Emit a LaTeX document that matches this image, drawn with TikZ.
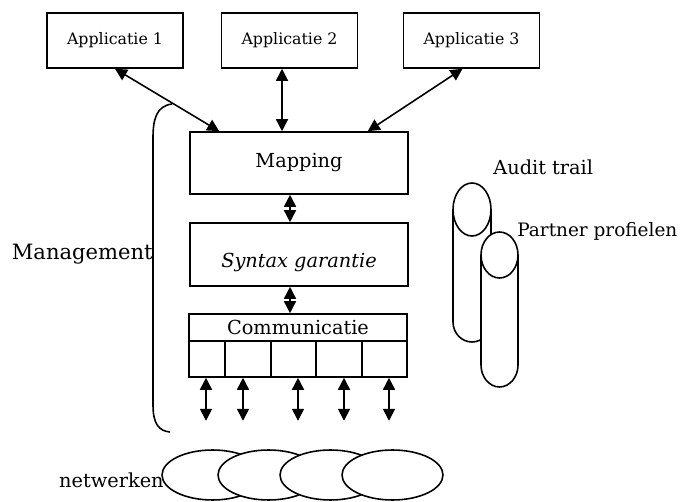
\documentclass[tikz,border=0pt]{standalone}
\usepackage{fontspec}
\setmainfont{DejaVu Serif}
\usepackage{tikz}
\usetikzlibrary{arrows.meta, shapes.geometric, calc}
\tikzset{
  appbox/.style={rectangle, draw, line width=0.9pt,
    minimum width=2.72cm, minimum height=1.1cm, inner sep=0pt,
    font=\fontsize{9}{11}\selectfont},
  layerbox/.style={rectangle, draw, line width=0.9pt,
    minimum width=4.36cm, inner sep=0pt, font=\fontsize{11}{13}\selectfont},
  cellbox/.style={rectangle, draw, line width=0.9pt,
    minimum height=0.72cm, inner sep=0pt},
  netnode/.style={ellipse, draw, fill=white, line width=0.9pt,
    minimum width=2.02cm, minimum height=1.0cm, inner sep=0pt},
  cyl/.style={draw, fill=white, line width=0.9pt},
  dblarrow/.style={{Triangle[length=2.4mm,width=2.4mm]}-{Triangle[length=2.4mm,width=2.4mm]},
    line width=0.9pt},
  lbl/.style={font=\fontsize{11}{13}\selectfont, inner sep=0pt}
}

\begin{document}
\begin{tikzpicture}[x=0.02cm, y=-0.02cm]
  \useasboundingbox (0,0) rectangle (682,502);

  % Applications
  \node[appbox] (app1) at (115,40.5) {Applicatie 1};
  \node[appbox] (app2) at (289.5,40.5) {Applicatie 2};
  \node[appbox] (app3) at (471.5,40.5) {Applicatie 3};

  % Layers
  \node[layerbox, minimum height=1.24cm] (map) at (299,163) {Mapping};
  \node[layerbox, minimum height=1.26cm,
    label={[lbl, yshift=-0.15cm]center:{\itshape Syntax garantie}}] (syn) at (299,254.5) {};
  \node[layerbox, minimum height=0.54cm] (comm) at (298,327.5) {Communicatie};
  \foreach \i/\l/\r/\d in {1/189/225/-1, 2/225/271/-5, 3/271/316/4.5, 4/316/362/5, 5/362/407/4.5} {
    \node[cellbox, minimum width={(\r-\l)*0.02cm}] (cell\i) at ({(\l+\r)/2},359) {};
    \draw[dblarrow] ([xshift=\d*0.02cm]cell\i.south) -- ++(0,43);
  }

  % Arrows between applications and layers
  \draw[dblarrow] (app1.south) -- ([xshift=0.6cm]map.north west);
  \draw[dblarrow] ([xshift=-0.15cm]app2.south) -- ([xshift=-0.15cm]app2.south |- map.north);
  \draw[dblarrow] ([xshift=-0.18cm]app3.south) -- ([xshift=-0.82cm]map.north east);
  \draw[dblarrow] ([xshift=-0.18cm]map.south) -- ([xshift=-0.18cm]syn.north);
  \draw[dblarrow] ([xshift=-0.18cm]syn.south) -- ([xshift=-0.16cm]comm.north);

  % Management bracket
  \draw[line width=0.9pt] (172,104) .. controls (156,106) and (153,120) .. (153,138)
    -- (153,405) .. controls (153,424) and (159,431) .. (170,432);
  \node[lbl, font=\fontsize{12}{14}\selectfont, anchor=base east] (mgmt) at (153,260) {Management};

  % Databases
  \draw[cyl] (453,209.5) -- (453,322) arc[start angle=180, end angle=0, x radius=19, y radius=20] -- (491,209.5);
  \draw[cyl] (472,209.5) ellipse [x radius=19, y radius=26.5];
  \draw[cyl] (481,255) -- (481,365) arc[start angle=180, end angle=0, x radius=18.5, y radius=22] -- (518,255);
  \draw[cyl] (499.5,255) ellipse [x radius=18.5, y radius=23];
  \node[lbl, anchor=base west] (audit) at (493,175) {Audit trail};
  \node[lbl, font=\fontsize{10.5}{12}\selectfont, anchor=base west] (partner) at (517,237) {Partner profielen};

  % Networks
  \foreach \i/\x in {1/212.5, 2/268.5, 3/330.5, 4/392.5}
    \node[netnode] (net\i) at (\x,475) {};
  \node[lbl, anchor=base east] (netlbl) at (164,487) {netwerken};
\end{tikzpicture}
\end{document}
